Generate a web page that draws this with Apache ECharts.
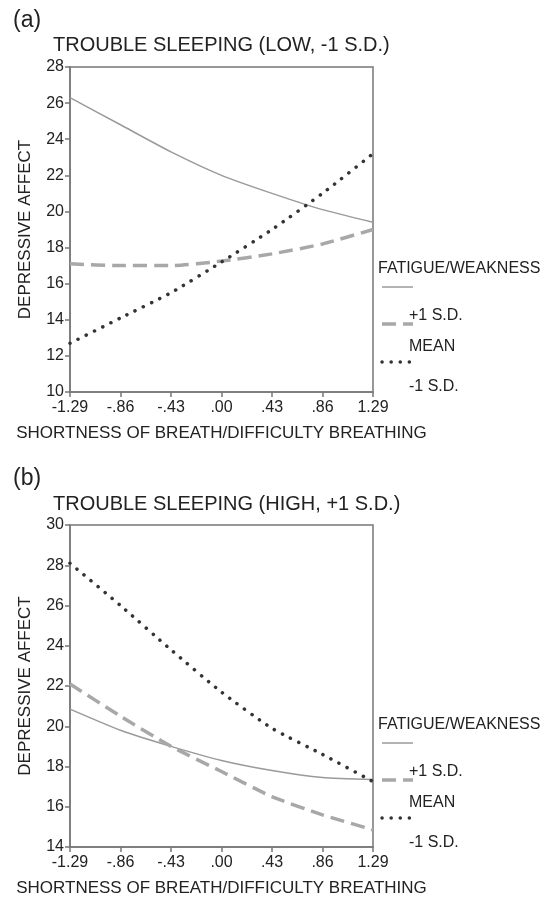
<!DOCTYPE html>
<html>
<head>
<meta charset="utf-8">
<script src="https://cdn.jsdelivr.net/npm/echarts@6/dist/echarts.min.js"></script>
<style>
html,body{margin:0;padding:0;background:#fff;}
#chart{width:558px;height:901px;}
</style>
</head>
<body>
<div id="chart"></div>
<script>
const categories = ['-1.29', '-.86', '-.43', '.00', '.43', '.86', '1.29'];

// Panel (a): Trouble sleeping LOW (-1 S.D.)
const lowPlus1SD = [26.3, 24.8, 23.3, 22.0, 21.0, 20.1, 19.4];
const lowMean    = [17.1, 17.0, 17.0, 17.25, 17.65, 18.2, 19.0];
const lowMinus1SD= [12.7, 14.1, 15.5, 17.2, 19.0, 21.0, 23.2];

// Panel (b): Trouble sleeping HIGH (+1 S.D.)
const highPlus1SD = [20.85, 19.8, 19.0, 18.3, 17.8, 17.45, 17.35];
const highMean    = [22.1, 20.5, 19.0, 17.75, 16.5, 15.6, 14.85];
const highMinus1SD= [28.1, 26.0, 23.8, 21.7, 19.9, 18.6, 17.25];

const panelTitles = ['TROUBLE SLEEPING (LOW, -1 S.D.)', 'TROUBLE SLEEPING (HIGH, +1 S.D.)'];
const panelLetters = ['(a)', '(b)'];
const legendTitle = 'FATIGUE/WEAKNESS';
const legendLabels = ['+1 S.D.', 'MEAN', '-1 S.D.'];
const xName = 'SHORTNESS OF BREATH/DIFFICULTY BREATHING';
const yName = 'DEPRESSIVE AFFECT';

const FONT = '"Liberation Sans", Arial, Helvetica, sans-serif';
const AX = '#777';
const TXT = '#222';

const solidStyle  = {color: '#9a9a9a', width: 1.5, type: 'solid'};
const dashedStyle = {color: '#a8a8a8', width: 3.5, type: [14, 7]};
const dottedStyle = {color: '#333', width: 3.5, type: [0.1, 9], cap: 'round'};
const styles = [solidStyle, dashedStyle, dottedStyle];

const grids = [
  {left: 70, top: 67, width: 303, height: 325},
  {left: 70, top: 525, width: 303, height: 322}
];
const yRanges = [[10, 28], [14, 30]];

function xAxisFor(i) {
  return {
    type: 'category', gridIndex: i, data: categories, boundaryGap: false,
    axisLine: {lineStyle: {color: AX, width: 1.5}},
    axisTick: {show: true, length: 5, lineStyle: {color: AX, width: 1.5}},
    axisLabel: {color: TXT, fontSize: 16, fontFamily: FONT, margin: 8},
    splitLine: {show: false},
    name: xName, nameLocation: 'middle', nameGap: 33,
    nameTextStyle: {color: TXT, fontSize: 17, fontFamily: FONT}
  };
}
function yAxisFor(i) {
  return {
    type: 'value', gridIndex: i, min: yRanges[i][0], max: yRanges[i][1], interval: 2,
    axisLine: {show: true, lineStyle: {color: AX, width: 1.5}},
    axisTick: {show: true, length: 5, lineStyle: {color: AX, width: 1.5}},
    axisLabel: {color: TXT, fontSize: 16, fontFamily: FONT, margin: 6},
    splitLine: {show: false},
    name: yName, nameLocation: 'middle', nameGap: 36, nameRotate: 90,
    nameTextStyle: {color: TXT, fontSize: 17, fontFamily: FONT}
  };
}

const panelData = [
  [lowPlus1SD, lowMean, lowMinus1SD],
  [highPlus1SD, highMean, highMinus1SD]
];

const series = [];
panelData.forEach((sets, i) => {
  sets.forEach((d, k) => {
    series.push({
      type: 'line', name: legendLabels[k], xAxisIndex: i, yAxisIndex: i,
      data: d, showSymbol: false, symbol: 'none', smooth: 0.2,
      lineStyle: styles[k], z: 3 + k, silent: true
    });
  });
});

// legend and panel titles as graphic elements
const graphic = [];
const panelOffsets = [0, 456];
panelOffsets.forEach((off, i) => {
  graphic.push({type: 'text', left: 13, top: 9 + off + (i ? 2 : 0),
    style: {text: panelLetters[i], fontSize: 23, fontFamily: FONT, fill: TXT}});
  graphic.push({type: 'text', left: 53, top: 35 + off + (i ? 3 : 0),
    style: {text: panelTitles[i], fontSize: 20, fontFamily: FONT, fill: TXT}});
  graphic.push({type: 'text', left: 378, top: 261 + off,
    style: {text: legendTitle, fontSize: 16, fontFamily: FONT, fill: TXT}});
  const lineYs = [287, 324, 362];
  const labelYs = [308, 339, 379];
  for (let k = 0; k < 3; k++) {
    const ls = styles[k];
    graphic.push({type: 'line', shape: {x1: 382, y1: lineYs[k] + off, x2: 413, y2: lineYs[k] + off},
      style: {stroke: ls.color, lineWidth: ls.width, lineDash: ls.type === 'solid' ? null : ls.type, lineCap: ls.cap || 'butt'}});
    graphic.push({type: 'text', left: 409, top: labelYs[k] + off,
      style: {text: legendLabels[k], fontSize: 16, fontFamily: FONT, fill: TXT}});
  }
});

const chart = echarts.init(document.getElementById('chart'), null, {renderer: 'canvas'});
chart.setOption({
  backgroundColor: '#fff',
  animation: false,
  grid: grids.map(g => Object.assign({show: true, borderColor: AX, borderWidth: 1.5, backgroundColor: 'transparent'}, g)),
  xAxis: [xAxisFor(0), xAxisFor(1)],
  yAxis: [yAxisFor(0), yAxisFor(1)],
  series: series,
  graphic: graphic
});
</script>
</body>
</html>
